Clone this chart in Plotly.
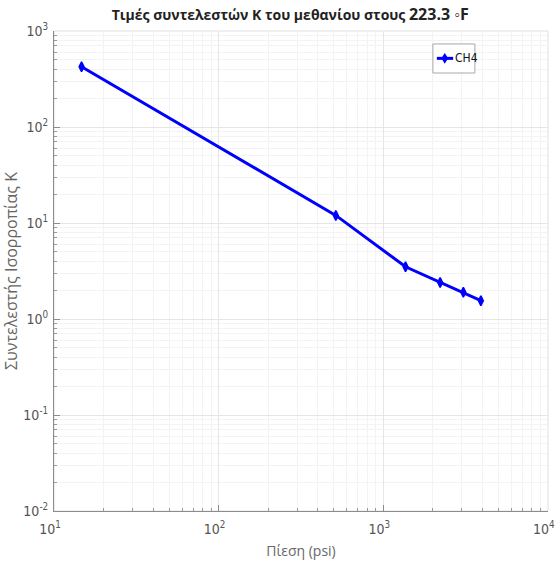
import plotly.graph_objects as go

# Equilibrium K-values of methane at 223.3 °F
pressure_psi = [14.7, 515, 1365, 2215, 3065, 3915]
k_ch4 = [425, 12.0, 3.5, 2.4, 1.9, 1.55]
series_name = "CH4"

x_tick_vals = [10, 100, 1000, 10000]
x_tick_text = ["10<sup>1</sup>", "10<sup>2</sup>", "10<sup>3</sup>", "10<sup>4</sup>"]
y_tick_vals = [0.01, 0.1, 1, 10, 100, 1000]
y_tick_text = ["10<sup>-2</sup>", "10<sup>-1</sup>", "10<sup>0</sup>",
               "10<sup>1</sup>", "10<sup>2</sup>", "10<sup>3</sup>"]

title_text = "Τιμές συντελεστών Κ του μεθανίου στους <span style='font-size:16px'>223.3 ◦F</span>"
x_title = "Πίεση (psi)"
y_title = "Συντελεστής Ισορροπίας Κ"

narrow = "DejaVu Sans Condensed, Liberation Sans Narrow, Arial Narrow, sans-serif"
tick_font = dict(family=narrow, size=14, color="#555555")
x_title_font = dict(family="Open Sans, sans-serif", size=14, color="#666666")
y_title_font = dict(family="Open Sans, sans-serif", size=16, color="#666666")
line_color = "#0000ff"

fig = go.Figure()
fig.add_trace(go.Scatter(
    x=pressure_psi,
    y=k_ch4,
    mode="lines+markers",
    name=series_name,
    showlegend=False,
    line=dict(color=line_color, width=3),
    marker=dict(symbol="diamond-tall", size=7, color=line_color,
                line=dict(color=line_color, width=1.5)),
))

common_axis = dict(
    type="log",
    tickmode="array",
    automargin=False,
    showline=True,
    linecolor="#8c8c8c",
    linewidth=1,
    ticks="inside",
    ticklen=6,
    tickcolor="#8c8c8c",
    showgrid=True,
    gridcolor="#e6e6e6",
    gridwidth=1,
    zeroline=False,
    tickfont=tick_font,
    ticklabeloverflow="allow",
    minor=dict(ticks="inside", ticklen=3, tickcolor="#9a9a9a",
               showgrid=True, gridcolor="#f3f3f3", dtick="D1"),
)

fig.update_xaxes(range=[1, 4.0005], tickvals=x_tick_vals, ticktext=x_tick_text,
                 ticklabelstandoff=5, ticklabelshift=-4,
                 title=dict(text=x_title, font=x_title_font, standoff=10),
                 **common_axis)
fig.update_yaxes(range=[-2, 3], tickvals=y_tick_vals, ticktext=y_tick_text,
                 ticklabelstandoff=2,
                 title=dict(text=y_title, font=y_title_font, standoff=2),
                 **common_axis)

# light frame on the top and right sides
fig.add_shape(type="rect", xref="paper", yref="paper", x0=0, y0=0, x1=1, y1=1,
              line=dict(color="#e0e0e0", width=1), layer="below")

# compact legend box: line sample, diamond marker and series name
fig.add_shape(type="rect", xref="paper", yref="paper", x0=0.767, x1=0.852, y0=0.9125, y1=0.973,
              line=dict(color="#a8a8a8", width=1), fillcolor="white", layer="above")
fig.add_shape(type="line", xref="paper", yref="paper", x0=0.775, x1=0.808, y0=0.943, y1=0.943,
              line=dict(color=line_color, width=3))
fig.add_shape(type="path", xref="paper", yref="paper", xsizemode="pixel", ysizemode="pixel",
              xanchor=0.791, yanchor=0.943, path="M 0 4 L 2.5 0 L 0 -4 L -2.5 0 Z",
              fillcolor=line_color, line=dict(color=line_color, width=1.5))
fig.add_annotation(x=0.808, y=0.943, xref="paper", yref="paper", text=series_name,
                   showarrow=False, xanchor="left", yanchor="middle",
                   font=dict(family=narrow, size=12, color="#111111"))

fig.update_layout(
    width=556,
    height=566,
    margin=dict(l=54, r=8, t=31, b=55),
    paper_bgcolor="white",
    plot_bgcolor="white",
    title=dict(text=title_text, x=0.522, xanchor="center", y=0.982, yanchor="top",
               font=dict(family="Open Sans, sans-serif", size=14, color="#222222", weight="bold")),
    showlegend=False,
)

fig.write_html("out.html")
